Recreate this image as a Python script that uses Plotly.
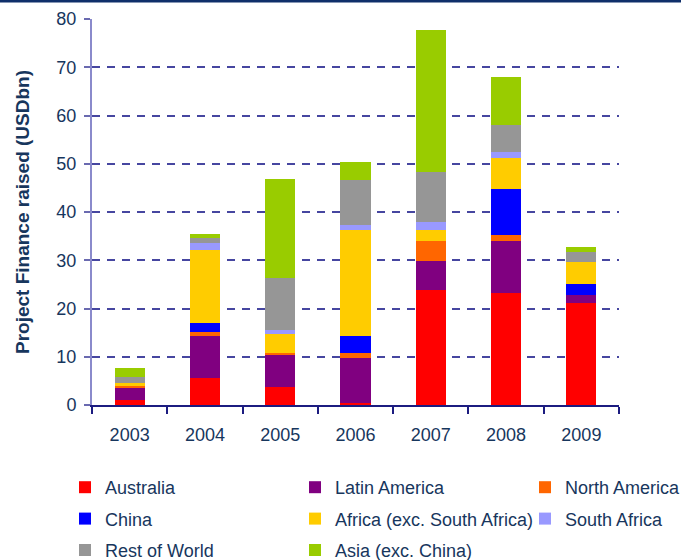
import plotly.graph_objects as go

years = ["2003", "2004", "2005", "2006", "2007", "2008", "2009"]

# USD bn per region
australia = [1.1, 5.7, 3.7, 0.4, 23.8, 23.2, 21.1]
latin_america = [2.6, 8.6, 6.6, 9.3, 6.0, 10.8, 1.7]
north_america = [0.2, 0.8, 0.5, 1.0, 4.2, 1.2, 0.0]
china = [0.0, 1.9, 0.0, 3.7, 0.0, 9.6, 2.3]
africa = [0.6, 15.2, 4.0, 21.8, 2.3, 6.4, 4.5]
south_africa = [0.0, 1.4, 0.7, 1.2, 1.6, 1.2, 0.0]
rest_of_world = [1.4, 1.0, 10.9, 9.3, 10.4, 5.6, 2.1]
asia = [1.7, 0.8, 20.4, 3.6, 29.4, 10.0, 1.0]

y_ticks = [0, 10, 20, 30, 40, 50, 60, 70, 80]

NAVY = "#17365D"
FONT = "Liberation Sans, Arial, sans-serif"

# (name, values, colour, legend column)
series = [
    ("Australia", australia, "#FF0000", "legend"),
    ("Latin America", latin_america, "#800080", "legend2"),
    ("North America", north_america, "#FF6600", "legend3"),
    ("China", china, "#0000FF", "legend"),
    ("Africa (exc. South Africa)", africa, "#FFCC00", "legend2"),
    ("South Africa", south_africa, "#9999FF", "legend3"),
    ("Rest of World", rest_of_world, "#969696", "legend"),
    ("Asia (exc. China)", asia, "#99CC00", "legend2"),
]

fig = go.Figure()
for name, vals, color, leg in series:
    fig.add_trace(go.Bar(
        x=years, y=vals, name=name,
        marker=dict(color=color, line=dict(width=0)),
        legend=leg, legendgroup=name,
    ))

# plot area in pixels: x 92..619, y 19..405
W, H = 681, 560
L, R, T, B = 92, 62, 19, 155
pw, ph = W - L - R, H - T - B


def px_x(p):
    return (p - L) / pw


def px_y(p):
    return (H - B - p) / ph


legend_style = dict(
    font=dict(family=FONT, size=18, color=NAVY),
    orientation="v", traceorder="grouped", tracegroupgap=5,
    yanchor="top", xanchor="left", bgcolor="rgba(0,0,0,0)",
    itemclick=False,
)

fig.update_layout(
    width=W, height=H,
    margin=dict(l=L, r=R, t=T, b=B, autoexpand=False),
    barmode="stack", bargap=0.6,
    plot_bgcolor="white", paper_bgcolor="white",
    font=dict(family=FONT, size=18, color=NAVY),
    legend=dict(x=px_x(65), y=px_y(469), **legend_style),
    legend2=dict(x=px_x(295), y=px_y(469), **legend_style),
    legend3=dict(x=px_x(525), y=px_y(469), **legend_style),
    xaxis=dict(
        showline=True, linecolor="#1C1C80", linewidth=2,
        ticks="outside", tickson="boundaries", ticklen=7,
        tickcolor="#1C1C80", tickwidth=2,
        tickfont=dict(size=18, color=NAVY),
        ticklabelstandoff=12,
    ),
    yaxis=dict(
        range=[0, 80], tickvals=y_ticks,
        showline=True, linecolor="#8A8ACB", linewidth=2,
        ticks="outside", ticklen=6, tickcolor="#6A6AB0", tickwidth=2,
        tickfont=dict(size=18, color=NAVY),
        ticklabelstandoff=4,
        showgrid=True, gridcolor="#4646A0", gridwidth=1.6,
        griddash="8px,7px", zeroline=False,
        title=dict(text="<b>Project Finance raised (USDbn)</b>",
                   font=dict(size=19, color=NAVY), standoff=22),
    ),
    shapes=[dict(
        type="line", xref="paper", yref="paper",
        x0=px_x(0), x1=px_x(W), y0=px_y(1), y1=px_y(1),
        line=dict(color="#0F2F6A", width=3),
    )],
)

# drop the default page margin so the figure sits at the window's corner
fig.write_html(
    "out.html",
    config={"displayModeBar": False},
    post_script="document.body.style.margin='0';",
)
